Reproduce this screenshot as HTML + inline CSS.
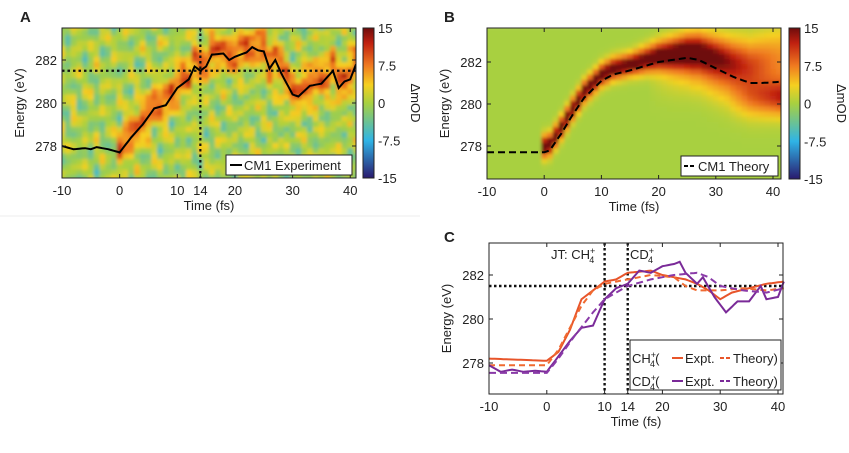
<!DOCTYPE html>
<html><head><meta charset="utf-8"><style>
body{margin:0;background:#fff;width:849px;height:448px;overflow:hidden;font-family:"Liberation Sans",sans-serif}
svg text{font-family:"Liberation Sans",sans-serif;fill:#222}
</style></head><body>
<svg id="s" width="849" height="448">
<defs>
<linearGradient id="cb" x1="0" y1="1" x2="0" y2="0">
<stop offset="0" stop-color="#2a1a6e"/><stop offset="0.25" stop-color="#2fb4e6"/><stop offset="0.5" stop-color="#a8d040"/><stop offset="0.62" stop-color="#f5d020"/><stop offset="0.75" stop-color="#f07a20"/><stop offset="0.9" stop-color="#c02010"/><stop offset="1" stop-color="#6e0c0c"/>
</linearGradient>
<filter id="bl"><feGaussianBlur stdDeviation="1.6"/></filter>
<clipPath id="ca"><rect x="62" y="28" width="294" height="150"/></clipPath>
<clipPath id="cbb"><rect x="487" y="28" width="294" height="151"/></clipPath>
</defs>
</svg>
<script>
// Panel A experiment ridge
const aT=[-10,-8,-6,-5,-4,-2,0,2,4,6,8,10,12,13,14,15,16,18,19,20,22,23,24,25,26,27,28,30,31,33,35,37,38,39,40,41];
const aE=[278.0,277.85,277.9,277.85,277.95,277.85,277.7,278.4,279.0,279.75,279.9,280.7,281.1,281.7,281.5,281.7,282.25,282.3,282.0,282.15,282.35,282.6,282.45,282.4,281.6,282.0,281.4,280.4,280.3,280.8,280.9,281.5,280.7,281.0,281.1,281.8];
// Panel B theory
const bT=[-10,0,1,3,5,7,10,12,15,20,25,27,30,33,36,38,41];
const bE=[277.7,277.7,277.8,278.6,279.5,280.3,281.1,281.4,281.6,282.0,282.2,282.1,281.7,281.3,281.0,281.0,281.05];
// Panel C
const chT=[-10,-5,0,2,4,6,8,10,12,14,16,18,20,24,26,28,30,32,35,38,41];
const chE=[278.2,278.15,278.1,278.5,279.5,280.9,281.3,281.7,281.8,282.1,282.15,282.2,282.0,281.8,281.6,281.3,280.9,281.2,281.4,281.6,281.7];
const chThT=[-10,0,2,4,6,8,10,14,18,22,24,26,30,34,38,41];
const chThE=[277.9,277.9,278.6,279.6,280.6,281.3,281.6,281.8,282.0,281.9,281.5,281.3,281.3,281.4,281.3,281.4];
const cdT=[-10,-8,-6,-4,-2,0,2,4,6,8,10,12,14,16,18,20,22,23,24,26,27,29,31,33,35,37,38,40,41];
const cdE=[277.9,277.6,277.7,277.6,277.65,277.6,278.3,279.0,279.6,279.7,280.9,281.4,281.6,282.2,282.1,282.4,282.5,282.6,282.1,281.6,281.9,281.0,280.3,280.8,280.8,281.5,280.9,281.0,281.7];
const cdThT=[-10,0,2,5,8,10,14,18,22,26,28,30,34,38,41];
const cdThE=[277.55,277.55,278.2,279.3,280.3,280.9,281.5,281.8,282.0,282.1,281.9,281.5,281.3,281.2,281.4];
const xTicks=[-10,0,10,20,30,40];
const yTicks=[278,280,282];
const cbTicks=[15,7.5,0,-7.5,-15];

const S=document.getElementById('s');const NS='http://www.w3.org/2000/svg';
function el(t,a,p){const e=document.createElementNS(NS,t);for(const k in a)e.setAttribute(k,a[k]);(p||S).appendChild(e);return e;}
function lin(d0,d1,r0,r1){return v=>r0+(v-d0)/(d1-d0)*(r1-r0);}
function interp(T,E,t){if(t<=T[0])return E[0];for(let i=1;i<T.length;i++)if(t<=T[i])return E[i-1]+(E[i]-E[i-1])*(t-T[i-1])/(T[i]-T[i-1]);return E[E.length-1];}
const stops=[[-15,[42,26,110]],[-7.5,[47,180,230]],[0,[168,208,64]],[3,[245,208,32]],[7.5,[240,122,32]],[12,[192,32,16]],[15,[110,12,12]]];
function col(v){v=Math.max(-15,Math.min(15,v));for(let i=1;i<stops.length;i++)if(v<=stops[i][0]){const a=stops[i-1],b=stops[i],f=(v-a[0])/(b[0]-a[0]);return 'rgb('+a[1].map((c,j)=>Math.round(c+(b[1][j]-c)*f)).join(',')+')';}}
function path(T,E,sx,sy){let d='';for(let t=T[0];t<=T[T.length-1]+0.001;t+=0.5)d+=(d?'L':'M')+sx(t).toFixed(1)+','+sy(interp(T,E,t)).toFixed(1);return d;}
function axes(x0,x1,y0,y1,sx,sy,xt,name){
 el('rect',{x:x0,y:y0,width:x1-x0,height:y1-y0,fill:'none',stroke:'#222','stroke-width':1});
 xt.forEach(v=>{const x=sx(v);el('line',{x1:x,x2:x,y1:y1,y2:y1-4,stroke:'#222'});el('line',{x1:x,x2:x,y1:y0,y2:y0+4,stroke:'#222'});
  const t=el('text',{x:x,y:y1+17,'font-size':13,'text-anchor':'middle'});t.textContent=v;
  });
 yTicks.forEach(v=>{const y=sy(v);el('line',{x1:x0,x2:x0+4,y1:y,y2:y,stroke:'#222'});el('line',{x1:x1,x2:x1-4,y1:y,y2:y,stroke:'#222'});
  const t=el('text',{x:x0-5,y:y+5,'font-size':13,'text-anchor':'end'});t.textContent=v;
  });
 const xl=el('text',{x:(x0+x1)/2,y:y1+32,'font-size':13,'text-anchor':'middle'});xl.textContent='Time (fs)';
 
 const yl=el('text',{x:0,y:0,'font-size':13,'text-anchor':'middle',transform:'translate('+(x0-38)+','+((y0+y1)/2)+') rotate(-90)'});yl.textContent='Energy (eV)';
 }
function colorbar(x,y0,y1,name){
 const r=el('rect',{x:x,y:y0,width:11,height:y1-y0,fill:'url(#cb)',stroke:'#222'});
 
 const cy=lin(15,-15,y0,y1);
 cbTicks.forEach(v=>{const t=el('text',{x:x+15,y:cy(v)+5,'font-size':13});t.textContent=v;
  });
 const l=el('text',{x:0,y:0,'font-size':13,'text-anchor':'middle',transform:'translate('+(x+48)+','+((y0+y1)/2)+') rotate(90)'});l.textContent='ΔmOD';
 }
function valA(T,E,t,e){
 let v=1.2*Math.sin(t*1.37+e*3.1)+1.3*Math.sin(t*0.53-e*5.7+1.1)+1.1*Math.sin(t*2.11+e*1.9+2.3)+0.9*Math.cos(t*0.29*e%7+e*2.6);
 v=v*1.3-0.3;
 if(t>=-0.5){const r=interp(T,E,t);v+=9*Math.exp(-Math.pow(e-r-0.2,2)/(2*0.6*0.6));}
 return v;}
function valB(T,E,t,e){
 if(t<-0.5)return 0;const r=interp(T,E,t);
 const amp=t<25?17:Math.max(6,17-(t-25)*0.7);
 const sig=0.35+Math.max(0,t-15)*0.02;
 const c=t<25?r+0.3:r+0.3+(t-25)*0.06;
 let v=amp*Math.exp(-Math.pow(e-c,2)/(2*sig*sig));
 if(t>18)v+=Math.min(1,(t-18)/8)*5*Math.exp(-Math.pow(e-(r-0.4),2)/(2*0.8*0.8));
 if(t>32)v+=(t-32)*0.8*Math.exp(-Math.pow(e-280.3,2)/0.6);
 return v;}
function heat(T,E,sx,sy,clip,fn,name){
 const g=el('g',{'clip-path':'url(#'+clip+')'});const h=el('g',{filter:'url(#bl)'},g);
 for(let t=-11;t<=42;t+=1)for(let e=276.3;e<=283.7;e+=0.25){
  const v=fn(T,E,t,e);
  const x=sx(t-0.5),w=sx(t+0.5)-x+0.6,y=sy(e+0.125),hh=sy(e-0.125)-y+0.6;
  const c=el('rect',{x:x,y:y,width:w,height:hh,fill:col(v)},h);
  }
 return g;}
function lab(x,y,s,name){const t=el('text',{x:x,y:y,'font-size':15,'font-weight':'bold'});t.textContent=s;}

// Panel A
{const sx=lin(-10,41,62,356),sy=lin(282,280,60,103);
 lab(20,22,'A','panel-a-label');
 heat(aT,aE,sx,sy,'ca',valA,'panel-a');
 const g=el('g',{'clip-path':'url(#ca)'});
 el('line',{x1:62,x2:356,y1:sy(281.5),y2:sy(281.5),stroke:'#111','stroke-width':2.2,'stroke-dasharray':'2.5,3'},g);
 el('line',{x1:sx(14),x2:sx(14),y1:28,y2:178,stroke:'#111','stroke-width':2.2,'stroke-dasharray':'2.5,3'},g);
 const p=el('path',{d:path(aT,aE,sx,sy),fill:'none',stroke:'#000','stroke-width':2},g);
 
 axes(62,356,28,178,sx,sy,[-10,0,10,14,20,30,40],'panel-a');
 const lg=el('g',{});
 el('rect',{x:226,y:155,width:126,height:20,fill:'#fff',stroke:'#222'},lg);
 el('line',{x1:230,x2:242,y1:165,y2:165,stroke:'#000','stroke-width':2},lg);
 const t=el('text',{x:244,y:170,'font-size':13},lg);t.textContent='CM1 Experiment';
 colorbar(363,28,178,'panel-a');}
// Panel B
{const sx=lin(-10,40,487,773),sy=lin(282,280,62,104);
 lab(444,22,'B','panel-b-label');
 heat(bT,bE,sx,sy,'cbb',valB,'panel-b');
 const g=el('g',{'clip-path':'url(#cbb)'});
 const p=el('path',{d:path(bT,bE,sx,sy),fill:'none',stroke:'#000','stroke-width':2,'stroke-dasharray':'7,4'},g);
 
 axes(487,781,28,179,sx,sy,xTicks,'panel-b');
 const lg=el('g',{});
 el('rect',{x:681,y:156,width:97,height:20,fill:'#fff',stroke:'#222'},lg);
 el('line',{x1:684,x2:696,y1:166,y2:166,stroke:'#000','stroke-width':2,'stroke-dasharray':'4,2'},lg);
 const t=el('text',{x:698,y:171,'font-size':13},lg);t.textContent='CM1 Theory';
 colorbar(789,28,179,'panel-b');}
// Panel C
{const sx=lin(-10,40,489,778),sy=lin(282,280,275,319);
 lab(444,242,'C','panel-c-label');
 el('line',{x1:489,x2:783,y1:sy(281.5),y2:sy(281.5),stroke:'#111','stroke-width':2.4,'stroke-dasharray':'2.5,2.5'});
 [10,14].forEach(v=>el('line',{x1:sx(v),x2:sx(v),y1:243,y2:394,stroke:'#111','stroke-width':2.4,'stroke-dasharray':'2.5,2.5'}));
 const series=[[chT,chE,'#e8552a','','ch4-experiment-line'],[chThT,chThE,'#f06a30','6,4','ch4-theory-line'],[cdT,cdE,'#7a2a98','','cd4-experiment-line'],[cdThT,cdThE,'#8a3aa8','7,4','cd4-theory-line']];
 series.forEach(s=>{const p=el('path',{d:path(s[0],s[1],sx,sy),fill:'none',stroke:s[2],'stroke-width':2,'stroke-dasharray':s[3]||'none'});
  });
 axes(489,783,243,394,sx,sy,[-10,0,10,14,20,30,40],'panel-c');
 const a=el('text',{x:551,y:259,'font-size':13});a.innerHTML='JT: CH<tspan dy="-5" font-size="9">+</tspan><tspan dx="-6" dy="9" font-size="9">4</tspan>';
 
 const b=el('text',{x:630,y:259,'font-size':13});b.innerHTML='CD<tspan dy="-5" font-size="9">+</tspan><tspan dx="-6" dy="9" font-size="9">4</tspan>';
 
 const lg=el('g',{});
 el('rect',{x:630,y:340,width:151,height:50,fill:'#fff',stroke:'#222'},lg);
 [['CH','#e8552a',358],['CD','#7a2a98',381]].forEach(r=>{const y=r[2];
  const t=el('text',{x:632,y:y+5,'font-size':13},lg);t.innerHTML=r[0]+'<tspan dy="-5" font-size="9">+</tspan><tspan dx="-6" dy="9" font-size="9">4</tspan><tspan dy="-4">(</tspan>';
  el('line',{x1:672,x2:683,y1:y,y2:y,stroke:r[1],'stroke-width':2},lg);
  const e=el('text',{x:685,y:y+5,'font-size':13},lg);e.textContent='Expt.';
  el('line',{x1:720,x2:732,y1:y,y2:y,stroke:r[1],'stroke-width':2,'stroke-dasharray':'4,2'},lg);
  const th=el('text',{x:733,y:y+5,'font-size':13},lg);th.textContent='Theory)';});}
el('line',{x1:0,x2:420,y1:216,y2:216,stroke:'#eee'});
</script>
</body></html>
